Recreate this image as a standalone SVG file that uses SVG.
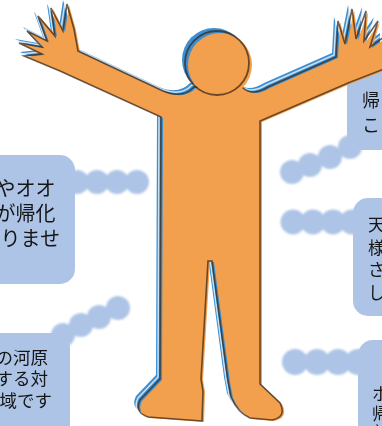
<svg xmlns="http://www.w3.org/2000/svg" xmlns:xlink="http://www.w3.org/1999/xlink" width="382" height="426" viewBox="0 0 382 426">
  <style>
    .box { fill: #adc4e6; }
    .dot { fill: #adc4e6; }
    .label { font-family: "Noto Sans CJK JP", "Noto Sans", sans-serif; fill: #151515; }
  </style>
  <defs>
    <filter id="soft" x="-5%" y="-5%" width="110%" height="110%">
      <feGaussianBlur stdDeviation="0.7"/>
    </filter>
    <filter id="fuzz" x="-20%" y="-20%" width="140%" height="140%">
      <feGaussianBlur stdDeviation="1.1"/>
    </filter>
    <!-- outline of the person: arms, torso, legs and feet -->
    <path id="body" d="M80,52 L165,92 Q185,100 196,88 L244,88 Q254,98 270,88 L338,58
      L340,22 L347,45 L354,10 L358,40 L368,12 L366,42 L380,22 L372,48 L386,38 L386,70 L350,84
      L262,122 L262,385 L282,404 Q289,418 274,421 L252,419 Q240,414 233,398 L230,382
      L214,262 L210,262 L203,380 L205,392 L204,422 L150,418 Q136,413 142,401 L162,380
      L163,118 L62,72
      L26,57 L44,55 L21,44 L44,48 L29,32 L49,42 L40,17 L57,37 L53,9 L65,32 L69,5 L76,30 Z"/>
    <circle id="head" cx="220" cy="65" r="32"/>
  </defs>

  <!-- speech boxes -->
  <g id="box-left-1" filter="url(#soft)">
    <rect class="box" x="-20" y="155" width="95" height="129" rx="15"/>
    <text class="label" font-size="20" text-anchor="end">
      <tspan x="60" y="195.5">やオオ</tspan>
      <tspan x="60" y="220.5">が帰化</tspan>
      <tspan x="60" y="245.5">りませ</tspan>
    </text>
  </g>
  <g id="box-left-2" filter="url(#soft)">
    <rect class="box" x="-20" y="333" width="90" height="110" rx="15"/>
    <text class="label" font-size="17.5" text-anchor="end">
      <tspan x="52" y="363.5">の河原</tspan>
      <tspan x="52" y="385">する対</tspan>
      <tspan x="52" y="406.5">域です</tspan>
    </text>
  </g>
  <g id="box-right-1" filter="url(#soft)">
    <rect class="box" x="347" y="66" width="60" height="84" rx="15"/>
    <text class="label" font-size="18">
      <tspan x="362" y="107">帰</tspan>
      <tspan x="362" y="132">こ</tspan>
    </text>
  </g>
  <g id="box-right-2" filter="url(#soft)">
    <rect class="box" x="353" y="198" width="60" height="118" rx="15"/>
    <text class="label" font-size="17">
      <tspan x="368" y="231">天</tspan>
      <tspan x="368" y="253.5">様</tspan>
      <tspan x="368" y="276">さ</tspan>
      <tspan x="368" y="298.5">し</tspan>
    </text>
  </g>
  <g id="box-right-3" filter="url(#soft)">
    <rect class="box" x="358" y="340" width="60" height="100" rx="15"/>
    <text class="label" font-size="17">
      <tspan x="372" y="399.5">ホ</tspan>
      <tspan x="372" y="419.5">帰</tspan>
      <tspan x="372" y="439">着</tspan>
    </text>
  </g>

  <!-- bubble chains -->
  <g id="connectors" filter="url(#fuzz)">
    <circle class="dot" cx="77" cy="182" r="12"/>
    <circle class="dot" cx="97" cy="182" r="12"/>
    <circle class="dot" cx="117" cy="182" r="12"/>
    <circle class="dot" cx="137" cy="182" r="12"/>

    <circle class="dot" cx="63" cy="335" r="12"/>
    <circle class="dot" cx="81" cy="325" r="12"/>
    <circle class="dot" cx="99" cy="317" r="12"/>
    <circle class="dot" cx="118" cy="308" r="12"/>

    <circle class="dot" cx="350" cy="147" r="12"/>
    <circle class="dot" cx="330" cy="157" r="12"/>
    <circle class="dot" cx="310" cy="165" r="12"/>
    <circle class="dot" cx="292" cy="172" r="12"/>

    <circle class="dot" cx="293" cy="222" r="12.5"/>
    <circle class="dot" cx="313" cy="222" r="12.5"/>
    <circle class="dot" cx="333" cy="222" r="12.5"/>
    <circle class="dot" cx="352" cy="222" r="12.5"/>

    <circle class="dot" cx="295" cy="362" r="13"/>
    <circle class="dot" cx="317" cy="362" r="13"/>
    <circle class="dot" cx="338" cy="362" r="13"/>
    <circle class="dot" cx="358" cy="362" r="13"/>
  </g>

  <!-- the person: blue shadow, orange fill, dark ink line -->
  <g id="person" filter="url(#soft)">
    <g transform="translate(-6,-5)" fill="#3a8fd2">
      <use xlink:href="#body"/>
      <use xlink:href="#head"/>
    </g>
    <use xlink:href="#body" transform="translate(-4,-3)" fill="none" stroke="#eef5fb" stroke-width="1.5" opacity="0.8"/>
    <use xlink:href="#body" fill="#f2a04e"/>
    <use xlink:href="#body" transform="translate(-2,-1)" fill="none" stroke="#3d2a18" stroke-width="1.6" opacity="0.75"/>
    <use xlink:href="#head" fill="#f2a04e"/>
    <use xlink:href="#head" transform="translate(-3,-2)" fill="none" stroke="#3d2a18" stroke-width="1.8" opacity="0.75"/>
  </g>
</svg>
